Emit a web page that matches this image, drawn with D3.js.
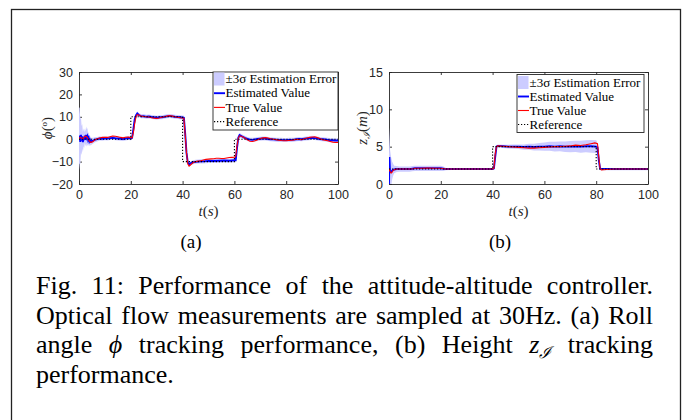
<!DOCTYPE html>
<html>
<head>
<meta charset="utf-8">
<script src="https://cdn.jsdelivr.net/npm/d3@7"></script>
<style>
body { margin: 0; background: #fff; }
svg { display: block; }
</style>
</head>
<body>
<div id="fig"></div>
<script>
'use strict';

// ---- values ----
var tickT   = [0, 20, 40, 60, 80, 100];
var tickPhi = [-20, -10, 0, 10, 20, 30];
var tickZ   = [0, 5, 10, 15];

// reference set points [t, value]
var refPhi = [[0,0],[20,0],[20,10],[40,10],[40,-10],[60,-10],[60,0],[100,0]];
var refZ   = [[0,2],[40,2],[40,5],[80,5],[80,2],[100,2]];

// estimated value [t, value, 3 sigma]
var estPhi = [[0,0.0,14],[0.25,1.6,12.5],[0.5,-1.2,10],[0.75,1.9,8],[1,-0.6,6.5],[1.25,1.3,5.5],[1.5,-1.3,4.5],
  [1.75,0.9,4],[2,-0.4,3.5],[2.25,1.6,3.2],[2.5,0.2,3.4],[2.75,1.9,3.8],[3,0.6,4],[3.25,1.3,3.6],[3.5,-0.2,3],
  [3.75,0.5,2.6],[4,-0.9,2.2],[4.25,-0.3,2],[4.5,-1.1,1.8],[5,-0.8,1.5],[5.5,-0.6,1.3],[6,-0.3,1.2],[7,0.0,1],
  [8,0.3,0.9],[9,0.2,0.9],[10,0.4,0.9],[11,0.3,0.9],[12,0.5,0.9],[13,0.6,0.9],[14,0.4,0.9],[15,0.3,0.9],
  [16,0.2,0.9],[17,0.1,0.9],[18,0.3,0.9],[19,0.5,0.9],[20,0.4,0.9],[20.5,0.6,0.9],[21,4.5,1],[21.5,8.8,1],
  [22,10.6,1],[22.5,11.5,1],[23,10.9,0.9],[24,10.2,0.9],[25,10.3,0.9],[26,10.0,0.9],[27,10.1,0.9],[28,9.9,0.9],
  [29,9.8,0.9],[30,9.6,0.9],[31,9.8,0.9],[32,9.8,0.9],[33,10.0,0.9],[34,10.2,0.9],[35,10.4,0.9],[36,10.2,0.9],
  [37,10.0,0.9],[38,9.9,0.9],[39,9.8,0.9],[40,9.7,0.9],[40.5,9.6,0.9],[41,2.5,1],[41.5,-6,1],[42,-10.4,1],
  [42.5,-11.2,1],[43,-10.8,0.9],[44,-10.3,0.9],[45,-10.1,0.9],[46,-10.0,0.9],[47,-9.9,0.9],[48,-9.9,0.9],
  [49,-9.8,0.9],[50,-9.7,0.9],[52,-9.7,0.9],[54,-9.6,0.9],[56,-9.5,0.9],[58,-9.6,0.9],[60,-9.4,0.9],
  [60.5,-9.4,0.9],[61,-4,1],[61.5,0.6,1],[62,1.8,1],[63,1.2,0.9],[64,0.6,0.9],[65,0.1,0.9],[66,-0.2,0.9],
  [67,-0.3,0.9],[68,-0.1,0.9],[69,0.1,0.9],[70,0.2,0.9],[71,0.3,0.9],[72,0.3,0.9],[73,0.1,0.9],[74,0.0,0.9],
  [75,-0.1,0.9],[76,-0.2,0.9],[77,-0.3,0.9],[78,-0.3,0.9],[79,-0.4,0.9],[80,-0.4,0.9],[81,-0.3,0.9],
  [82,-0.3,0.9],[83,-0.2,0.9],[84,0.0,0.9],[85,0.1,0.9],[86,0.0,0.9],[87,0.2,0.9],[88,0.3,0.9],[89,0.4,0.9],
  [90,0.6,0.9],[91,0.5,0.9],[92,0.3,0.9],[93,0.1,0.9],[94,0.0,0.9],[95,-0.1,0.9],[96,-0.3,0.9],[97,-0.5,0.9],
  [98,-0.5,0.9],[99,-0.6,0.9],[100,-0.6,0.9]];

var estZ = [[0,0,4],[0.15,3.6,4],[0.4,1.6,3],[0.8,1.6,2],[1.2,1.8,1.2],[1.6,1.9,0.8],[2,1.95,0.5],[3,2.0,0.4],
  [4,2.0,0.35],[6,2.0,0.35],[8,2.0,0.35],[9,2.05,0.35],[10,2.1,0.35],[12,2.1,0.35],[14,2.1,0.35],[16,2.1,0.35],
  [18,2.1,0.35],[20,2.1,0.35],[21,2.05,0.3],[22,2.0,0.15],[24,2.0,0.12],[28,2.0,0.12],[32,2.0,0.12],
  [36,2.0,0.12],[40,2.0,0.12],[40.5,2.1,0.15],[41,3.6,0.2],[41.5,5.0,0.2],[42,5.1,0.2],[44,5.05,0.22],
  [46,5.0,0.25],[48,5.0,0.28],[50,5.0,0.3],[52,4.95,0.35],[54,5.0,0.4],[56,4.95,0.45],[58,5.0,0.5],
  [60,5.0,0.55],[62,5.05,0.6],[64,5.0,0.65],[66,5.05,0.65],[68,5.0,0.7],[70,5.0,0.75],[72,5.05,0.75],
  [74,5.0,0.8],[76,5.05,0.8],[78,5.05,0.85],[80,5.0,0.85],[80.5,4.9,0.6],[81,3.2,0.3],[81.5,2.05,0.2],
  [82,2.0,0.15],[85,2.0,0.15],[90,2.0,0.15],[95,2.0,0.15],[100,2.0,0.15]];

// true value [t, value]
var truePhi = [[0,0.3],[0.5,0.8],[1,0.5],[1.5,0.2],[2,1.0],[2.5,1.4],[3,1.0],[3.5,0.2],[4,-0.8],[4.5,-1.4],
  [5,-1.3],[5.5,-0.9],[6,-0.4],[7,0.2],[8,0.5],[9,0.8],[10,0.9],[11,0.8],[12,1.1],[13,1.4],[14,1.3],[15,1.1],
  [16,0.8],[17,0.6],[18,0.9],[19,1.0],[20,0.7],[20.5,0.6],[21,3],[21.5,7],[22,10],[22.5,11.0],[23,10.8],
  [24,10.3],[25,10.1],[26,10.0],[27,9.9],[28,9.6],[29,9.4],[30,9.3],[31,9.5],[32,9.8],[33,10.0],[34,10.3],
  [35,10.5],[36,10.3],[37,10.0],[38,9.8],[39,9.6],[40,9.5],[40.5,9.3],[41,2],[41.5,-6],[42,-11],[42.5,-12],
  [43,-11.5],[44,-10.5],[45,-10.0],[46,-9.8],[47,-9.6],[48,-9.3],[49,-9.0],[50,-8.9],[51,-8.8],[52,-8.7],
  [53,-8.5],[54,-8.5],[55,-8.6],[56,-8.6],[57,-8.4],[58,-8.2],[59,-8.1],[60,-8.0],[60.5,-7.8],[61,-3],
  [61.5,0.5],[62,1.5],[63,1.2],[64,0.5],[65,-0.3],[66,-0.9],[67,-1.0],[68,-0.7],[69,-0.2],[70,0.3],[71,0.6],
  [72,0.7],[73,0.5],[74,0.2],[75,0.0],[76,-0.2],[77,-0.4],[78,-0.6],[79,-0.7],[80,-0.7],[81,-0.6],[82,-0.5],
  [83,-0.3],[84,0.0],[85,-0.1],[86,-0.2],[87,0.2],[88,0.5],[89,0.8],[90,1.0],[91,1.1],[92,0.7],[93,0.3],
  [94,-0.2],[95,-0.5],[96,-0.7],[97,-1.0],[98,-1.3],[99,-1.5],[100,-1.4]];

var trueZ = [[0,2.0],[0.4,1.7],[0.8,1.45],[1.2,1.6],[1.6,1.8],[2,1.9],[3,2.0],[5,2.0],[8,2.0],[9.5,2.05],
  [10,2.1],[12,2.1],[15,2.12],[18,2.1],[20,2.1],[21,2.05],[22,2.0],[30,2.0],[40,2.0],[40.5,2.1],[41,4.0],
  [41.5,5.0],[42,5.1],[44,5.05],[46,5.0],[48,4.95],[50,4.9],[52,4.85],[54,4.8],[56,4.8],[58,4.85],[60,4.9],
  [62,4.95],[64,5.0],[66,5.0],[68,5.05],[70,5.1],[72,5.2],[74,5.15],[76,5.25],[78,5.4],[79.5,5.5],[80.5,5.4],
  [81,3.6],[81.5,2.1],[82,1.9],[84,1.95],[87,2.0],[90,2.0],[95,2.0],[100,2.0]];

var legendNames = ['\u00b13\u03c3 Estimation Error', 'Estimated Value', 'True Value', 'Reference'];
var subLabels = ['(a)', '(b)'];
// $phi and $zI are math symbols
var captionLines = [
  ['Fig.', '11:', 'Performance', 'of', 'the', 'attitude-altitude', 'controller.'],
  ['Optical', 'flow', 'measurements', 'are', 'sampled', 'at', '30Hz.', '(a)', 'Roll'],
  ['angle', '$phi', 'tracking', 'performance,', '(b)', 'Height', '$zI', 'tracking'],
  ['performance.']
];

var funcao = {};
funcao.w = 692;
funcao.h = 420;
funcao.ink = '#262626';
funcao.serif = '"Liberation Serif", "Times New Roman", serif';
funcao.sans = '"Liberation Sans", Arial, sans-serif';

funcao.appendSvg = function (div)
{
    var svg = d3.select(div).append('svg')
        .attr('width', funcao.w)
        .attr('height', funcao.h);
    svg.append('rect')
        .attr('x', 11.5).attr('y', 9.5)
        .attr('width', 669).attr('height', 430)
        .attr('fill', 'none')
        .attr('stroke', '#222')
        .attr('stroke-width', 1.3);
    return svg;
}

funcao.createAxes = function (svg, box, yDomain, yTicks)
{
    var xScale = d3.scaleLinear().domain([0, 100]).range([box.x0, box.x1]);
    var yScale = d3.scaleLinear().domain(yDomain).range([box.y1, box.y0]);

    var style = function (g) {
        g.selectAll('path').attr('stroke', funcao.ink).attr('stroke-width', 0.9);
        g.selectAll('line').attr('stroke', funcao.ink).attr('stroke-width', 0.9);
        g.selectAll('text').attr('fill', funcao.ink)
            .style('font-family', funcao.sans).style('font-size', '12.5px');
    };

    svg.append('g')
        .attr('transform', 'translate(0,' + box.y1 + ')')
        .call(d3.axisBottom(xScale).tickValues(tickT).tickSizeInner(-3).tickSizeOuter(0).tickPadding(6))
        .call(style);
    svg.append('g')
        .attr('transform', 'translate(0,' + box.y0 + ')')
        .call(d3.axisTop(xScale).tickValues(tickT).tickSizeInner(-3).tickSizeOuter(0).tickFormat(''))
        .call(style);
    svg.append('g')
        .attr('transform', 'translate(' + box.x0 + ',0)')
        .call(d3.axisLeft(yScale).tickValues(yTicks).tickSizeInner(-3).tickSizeOuter(0).tickPadding(6))
        .call(style);
    svg.append('g')
        .attr('transform', 'translate(' + box.x1 + ',0)')
        .call(d3.axisRight(yScale).tickValues(yTicks).tickSizeInner(-3).tickSizeOuter(0).tickFormat(''))
        .call(style);

    return {x: xScale, y: yScale};
}

funcao.appendSeries = function (svg, sc, id, est, tru, ref)
{
    svg.append('clipPath').attr('id', id)
        .append('rect')
        .attr('x', sc.x.range()[0]).attr('y', sc.y.range()[1])
        .attr('width', sc.x.range()[1] - sc.x.range()[0])
        .attr('height', sc.y.range()[0] - sc.y.range()[1]);
    var g = svg.append('g').attr('clip-path', 'url(#' + id + ')');

    var band = d3.area()
        .x(function(d){ return sc.x(d[0]); })
        .y0(function(d){ return sc.y(d[1] - d[2]); })
        .y1(function(d){ return sc.y(d[1] + d[2]); });
    var line = d3.line()
        .x(function(d){ return sc.x(d[0]); })
        .y(function(d){ return sc.y(d[1]); });

    g.append('path').datum(est).attr('d', band)
        .attr('fill', 'rgb(204,204,255)').attr('stroke', 'none');
    g.append('path').datum(est).attr('d', line)
        .attr('fill', 'none').attr('stroke', '#0000ff').attr('stroke-width', 1.9);
    g.append('path').datum(tru).attr('d', line)
        .attr('fill', 'none').attr('stroke', '#ff0000').attr('stroke-width', 1.1);
    g.append('path').datum(ref).attr('d', line)
        .attr('fill', 'none').attr('stroke', '#000').attr('stroke-width', 1.1)
        .attr('stroke-dasharray', '1.2,1.8');
}

funcao.appendLegend = function (svg, x, y, w, rowY, step)
{
    var g = svg.append('g');
    g.append('rect')
        .attr('x', x).attr('y', y).attr('width', w).attr('height', 58)
        .attr('fill', '#fff').attr('stroke', funcao.ink).attr('stroke-width', 0.9);
    var rows = g.selectAll('.row').data(legendNames).enter().append('g')
        .attr('transform', function(d, i){ return 'translate(' + (x + 1) + ',' + (rowY + i * step) + ')'; });
    rows.each(function(d, i){
        var r = d3.select(this);
        if (i == 0) {
            r.append('rect').attr('x', 0).attr('y', -6.5).attr('width', 10.5).attr('height', 13)
                .attr('fill', 'rgb(204,204,255)');
        } else {
            r.append('line').attr('x1', 0).attr('x2', 11).attr('y1', 0).attr('y2', 0)
                .attr('stroke', ['', '#0000ff', '#ff0000', '#000'][i])
                .attr('stroke-width', [0, 1.9, 1.1, 1.1][i])
                .attr('stroke-dasharray', i == 3 ? '1.2,1.8' : null);
        }
        r.append('text').attr('x', 11.5).attr('y', 0).attr('dy', '0.33em')
            .style('font-family', funcao.serif).style('font-size', '13px')
            .attr('fill', '#000')
            .text(d);
    });
}

funcao.axisTitles = function (svg, box, which)
{
    var cx = (box.x0 + box.x1) / 2;
    var t = svg.append('text').attr('x', cx).attr('y', 216)
        .attr('text-anchor', 'middle').attr('fill', funcao.ink)
        .style('font-family', funcao.serif).style('font-size', '15px');
    t.append('tspan').style('font-style', 'italic').text('t');
    t.append('tspan').text('(');
    t.append('tspan').style('font-style', 'italic').text('s');
    t.append('tspan').text(')');

    var cy = (box.y0 + box.y1) / 2;
    var lx = which == 0 ? 52 : 367;
    var y = svg.append('text')
        .attr('transform', 'translate(' + lx + ',' + cy + ') rotate(-90)')
        .attr('text-anchor', 'middle').attr('fill', funcao.ink)
        .style('font-family', funcao.serif).style('font-size', '15px');
    if (which == 0) {
        y.append('tspan').style('font-style', 'italic').text('\u03d5');
        y.append('tspan').text('(');
        y.append('tspan').style('font-size', '9px').attr('dy', -5).text('o');
        y.append('tspan').attr('dy', 5).text(')');
    } else {
        y.append('tspan').style('font-style', 'italic').text('z');
        y.append('tspan').style('font-size', '10px').style('font-family', '"DejaVu Serif", serif')
            .style('font-style', 'italic').attr('dy', 3).text('\u2110');
        y.append('tspan').attr('dy', -3).text('(');
        y.append('tspan').style('font-style', 'italic').text('m');
        y.append('tspan').text(')');
    }
}

funcao.fillWord = function (t, w)
{
    if (w == '$phi') {
        t.append('tspan').style('font-style', 'italic').text('\u03d5');
    } else if (w == '$zI') {
        t.append('tspan').style('font-style', 'italic').text('z');
        t.append('tspan').style('font-size', '16px').style('font-family', '"DejaVu Serif", serif')
            .style('font-style', 'italic').attr('dy', 5).text('\u2110');
    } else {
        t.text(w);
    }
}

funcao.appendCaption = function (svg)
{
    var x0 = 36, x1 = 653, base = 294, lead = 29.7;
    var g = svg.append('g')
        .style('font-family', funcao.serif).style('font-size', '26px').attr('fill', '#000');
    captionLines.forEach(function (words, li) {
        var y = base + li * lead;
        var nodes = words.map(function (w) {
            var t = g.append('text').attr('y', y);
            funcao.fillWord(t, w);
            return t;
        });
        var widths = nodes.map(function (n) { return n.node().getComputedTextLength(); });
        var justify = li < captionLines.length - 1;
        var gap = justify ? (x1 - x0 - d3.sum(widths)) / (words.length - 1) : 6.5;
        var x = x0;
        nodes.forEach(function (n, i) { n.attr('x', x); x += widths[i] + gap; });
    });

    svg.selectAll('.sub').data(subLabels).enter().append('text')
        .attr('x', function(d, i){ return [191, 500][i]; })
        .attr('y', 248)
        .attr('text-anchor', 'middle')
        .style('font-family', funcao.serif).style('font-size', '19px')
        .text(function(d){ return d; });
}

var svg = funcao.appendSvg('#fig');
var boxA = {x0: 79, x1: 338, y0: 72, y1: 184};
var boxB = {x0: 389, x1: 648, y0: 72, y1: 184};

var scA = funcao.createAxes(svg, boxA, [-20, 30], tickPhi);
funcao.appendSeries(svg, scA, 'clipA', estPhi, truePhi, refPhi);
funcao.appendLegend(svg, 213, 72, 125, 79, 14.2);
funcao.axisTitles(svg, boxA, 0);

var scB = funcao.createAxes(svg, boxB, [0, 15], tickZ);
funcao.appendSeries(svg, scB, 'clipB', estZ, trueZ, refZ);
funcao.appendLegend(svg, 517, 74.5, 127, 82.5, 14);
funcao.axisTitles(svg, boxB, 1);

funcao.appendCaption(svg);
</script>
</body>
</html>
